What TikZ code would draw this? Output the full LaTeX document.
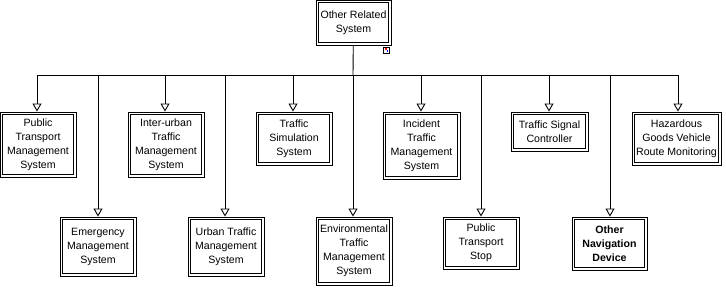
\documentclass[tikz,border=0pt]{standalone}
\usepackage{fontspec}
\setmainfont{Liberation Sans}
\usepackage{tikz}
\usetikzlibrary{arrows.meta,positioning,calc}

\begin{document}
\begin{tikzpicture}[
		x=1pt, y=-1pt,
		sysbox/.style={draw, line width=0.9pt,
				inner sep=1pt, align=center, anchor=center,
				font=\fontsize{10.6}{14}\selectfont,
				append after command={\pgfextra{\draw[line width=0.9pt]
					($(\tikzlastnode.north west)+(3,3)$) rectangle
					($(\tikzlastnode.south east)+(-3,-3)$);}}},
		navbox/.style={sysbox, font=\fontsize{10.6}{14}\selectfont\bfseries},
		wire/.style={line width=0.9pt},
		feed/.style={wire, -{Triangle[open, length=8pt, width=9pt, line width=0.9pt]}}]

		\useasboundingbox (0,0) rectangle (726,300);

		% ── source system ──
		\node[sysbox, minimum width=75, minimum height=45] (other) at (353.5,22.5) {Other Related\\System};
		\node[draw, line width=0.7pt, minimum size=6, inner sep=0pt] (mark) at (386.5,50) {};
		\fill[red] (384.7,48.2) rectangle (386.5,50);
		\fill[blue] (386.5,50) rectangle (388.3,51.8);

		% ── upper row ──
		\node[sysbox, minimum width=76, minimum height=65] (ptms) at (38,144.5) {Public\\Transport\\Management\\System};
		\node[sysbox, minimum width=76, minimum height=65] (iutms) at (166,144.5) {Inter-urban\\Traffic\\Management\\System};
		\node[sysbox, minimum width=76, minimum height=53] (tss) at (294,138.5) {Traffic\\Simulation\\System};
		\node[sysbox, minimum width=77, minimum height=67] (itms) at (421.5,145.5) {Incident\\Traffic\\Management\\System};
		\node[sysbox, minimum width=77, minimum height=39] (tsc) at (549.5,131.5) {Traffic Signal\\Controller};
		\node[sysbox, minimum width=89, minimum height=53] (hgv) at (676.5,138.5) {Hazardous\\Goods Vehicle\\Route Monitoring};

		% ── lower row ──
		\node[sysbox, minimum width=76, minimum height=59] (ems) at (98,246.5) {Emergency\\Management\\System};
		\node[sysbox, minimum width=76, minimum height=59] (utms) at (226,246.5) {Urban Traffic\\Management\\System};
		\node[sysbox, minimum width=76, minimum height=68] (etms) at (354,251) {Environmental\\Traffic\\Management\\System};
		\node[sysbox, minimum width=76, minimum height=52] (pts) at (481,243) {Public\\Transport\\Stop};
		\node[navbox, minimum width=75, minimum height=53] (ond) at (609.5,243.5) {Other\\Navigation\\Device};

		% ── distribution bus ──
		\coordinate (bus) at (353,75);
		\draw[wire] (other) -- (bus);
		\draw[wire] (bus -| 37,0) -- (bus -| 678,0);

		% ── feeds down to each system ──
		\draw[feed] (37,75) -- (37,0 |- ptms.north);
		\draw[feed] (98,75) -- (98,0 |- ems.north);
		\draw[feed] (165,75) -- (165,0 |- iutms.north);
		\draw[feed] (225,75) -- (225,0 |- utms.north);
		\draw[feed] (293,75) -- (293,0 |- tss.north);
		\draw[feed] (bus) -- (353,0 |- etms.north);
		\draw[feed] (421,75) -- (421,0 |- itms.north);
		\draw[feed] (481,75) -- (481,0 |- pts.north);
		\draw[feed] (549,75) -- (549,0 |- tsc.north);
		\draw[feed] (610,75) -- (610,0 |- ond.north);
		\draw[feed] (678,75) -- (678,0 |- hgv.north);

	\end{tikzpicture}
\end{document}
